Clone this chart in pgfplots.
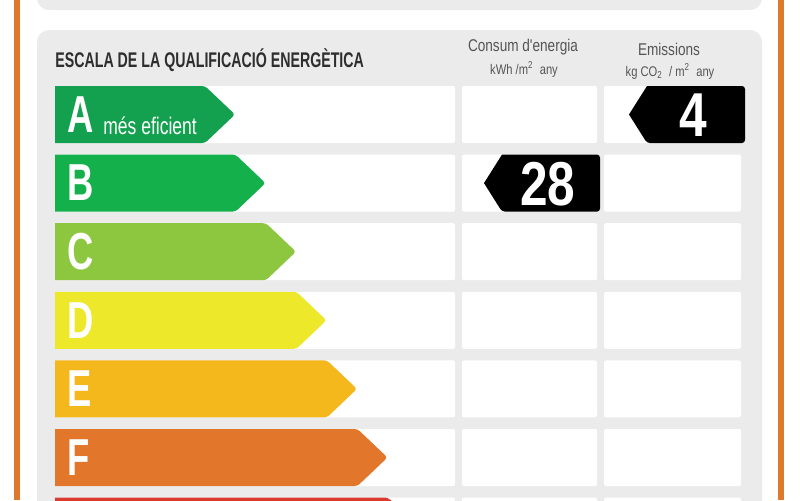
\documentclass[border=0pt]{standalone}
\usepackage{pgfplots}
\pgfplotsset{compat=1.18}
\usepackage{fontspec}
\setmainfont{Liberation Sans}
\newfontfamily\condL[FakeStretch=0.70]{Liberation Sans}
\newfontfamily\condM[FakeStretch=0.73]{Liberation Sans}
\newfontfamily\condT[FakeStretch=0.67]{Liberation Sans}
\newfontfamily\condH[FakeStretch=0.80]{Liberation Sans}
\newfontfamily\condN[FakeStretch=0.80]{Liberation Sans}
\definecolor{frameor}{HTML}{DE7A2E}
\definecolor{panel}{HTML}{ECEBEC}
\definecolor{cA}{HTML}{13A04F}
\definecolor{cB}{HTML}{14B04B}
\definecolor{cC}{HTML}{8DC63F}
\definecolor{cD}{HTML}{EDE82A}
\definecolor{cE}{HTML}{F4B71C}
\definecolor{cF}{HTML}{E2762A}
\definecolor{cG}{HTML}{DB3B2E}
\definecolor{ttl}{HTML}{2E2E2E}
\definecolor{hdr}{HTML}{555555}
\begin{document}
\begin{tikzpicture}
\begin{axis}[scale only axis, width=400pt, height=250pt,
  xmin=0, xmax=800, ymin=0, ymax=500, y dir=reverse,
  hide axis, clip=true]
% background
\fill[white] (axis cs:0,0) rectangle (axis cs:800,500);
\fill[frameor] (axis cs:14,0) rectangle (axis cs:20,500);
\fill[frameor] (axis cs:778,0) rectangle (axis cs:784,500);
\fill[panel, rounded corners=6pt] (axis cs:37,-30) rectangle (axis cs:762,10);
\fill[panel, rounded corners=6pt] (axis cs:37,30) rectangle (axis cs:762,540);
% white strips
\pgfplotsinvokeforeach{86,154.6,223.2,291.8,360.4,429,497.6}{
  \fill[white, rounded corners=1pt] (axis cs:55,#1) rectangle (axis cs:455,#1+57);
  \fill[white, rounded corners=1pt] (axis cs:462,#1) rectangle (axis cs:597,#1+57);
  \fill[white, rounded corners=1pt] (axis cs:604,#1) rectangle (axis cs:741,#1+57);
}
% arrows
\addplot[fill=cA, draw=none, rounded corners=1.5pt] coordinates {(55,86) (205,86) (235,114.5) (205,143) (55,143)};
\addplot[fill=cB, draw=none, rounded corners=1.5pt] coordinates {(55,154.6) (235.5,154.6) (265.5,183.1) (235.5,211.6) (55,211.6)};
\addplot[fill=cC, draw=none, rounded corners=1.5pt] coordinates {(55,223.2) (266,223.2) (296,251.7) (266,280.2) (55,280.2)};
\addplot[fill=cD, draw=none, rounded corners=1.5pt] coordinates {(55,291.8) (296.5,291.8) (326.5,320.3) (296.5,348.8) (55,348.8)};
\addplot[fill=cE, draw=none, rounded corners=1.5pt] coordinates {(55,360.4) (327,360.4) (357,388.9) (327,417.4) (55,417.4)};
\addplot[fill=cF, draw=none, rounded corners=1.5pt] coordinates {(55,429) (357.5,429) (387.5,457.5) (357.5,486) (55,486)};
\addplot[fill=cG, draw=none, rounded corners=1.5pt] coordinates {(55,497.6) (388,497.6) (418,526.1) (388,554.6) (55,554.6)};
% value pointers
\addplot[fill=black, draw=none, rounded corners=1.5pt] coordinates {(647,86) (745,86) (745,143) (647,143) (629,114.5)};
\addplot[fill=black, draw=none, rounded corners=1.5pt] coordinates {(502,154.6) (600,154.6) (600,211.6) (502,211.6) (484,183.1)};
% letters
\node[anchor=west, inner sep=0pt, text=white, font=\condL\bfseries\fontsize{26}{26}\selectfont] at (axis cs:67,114.5) {A};
\node[anchor=west, inner sep=0pt, text=white, font=\condL\bfseries\fontsize{26}{26}\selectfont] at (axis cs:67,183.1) {B};
\node[anchor=west, inner sep=0pt, text=white, font=\condL\bfseries\fontsize{26}{26}\selectfont] at (axis cs:67,251.7) {C};
\node[anchor=west, inner sep=0pt, text=white, font=\condL\bfseries\fontsize{26}{26}\selectfont] at (axis cs:67,320.3) {D};
\node[anchor=west, inner sep=0pt, text=white, font=\condL\bfseries\fontsize{26}{26}\selectfont] at (axis cs:67,388.9) {E};
\node[anchor=west, inner sep=0pt, text=white, font=\condL\bfseries\fontsize{26}{26}\selectfont] at (axis cs:67,457.5) {F};
\node[anchor=base west, inner sep=0pt, text=white, font=\condM\fontsize{12}{12}\selectfont] at (axis cs:103,134) {més eficient};
% values
\node[anchor=center, inner sep=0pt, text=white, font=\condN\bfseries\fontsize{31}{31}\selectfont] at (axis cs:693,115) {4};
\node[anchor=center, inner sep=0pt, text=white, font=\condN\bfseries\fontsize{31}{31}\selectfont] at (axis cs:548,184) {28};
% headers
\node[anchor=west, inner sep=0pt, text=ttl, font=\condT\bfseries\fontsize{10.6}{10.6}\selectfont] at (axis cs:55,60) {ESCALA DE LA QUALIFICACIÓ ENERGÈTICA};
\node[anchor=center, inner sep=0pt, text=hdr, font=\condH\fontsize{8.5}{8.5}\selectfont] at (axis cs:523,47) {Consum d'energia};
\node[anchor=center, inner sep=0pt, text=hdr, font=\condH\fontsize{7}{7}\selectfont] at (axis cs:524,69) {kWh /m\textsuperscript{2}\ \ any};
\node[anchor=center, inner sep=0pt, text=hdr, font=\condH\fontsize{8.5}{8.5}\selectfont] at (axis cs:669,49) {Emissions};
\node[anchor=center, inner sep=0pt, text=hdr, font=\condH\fontsize{7}{7}\selectfont] at (axis cs:670,71) {kg CO\textsubscript{2}\ \ / m\textsuperscript{2}\ \ any};
\end{axis}
\pgfresetboundingbox
\useasboundingbox (current axis.south west) rectangle (current axis.north east);
\end{tikzpicture}
\end{document}
